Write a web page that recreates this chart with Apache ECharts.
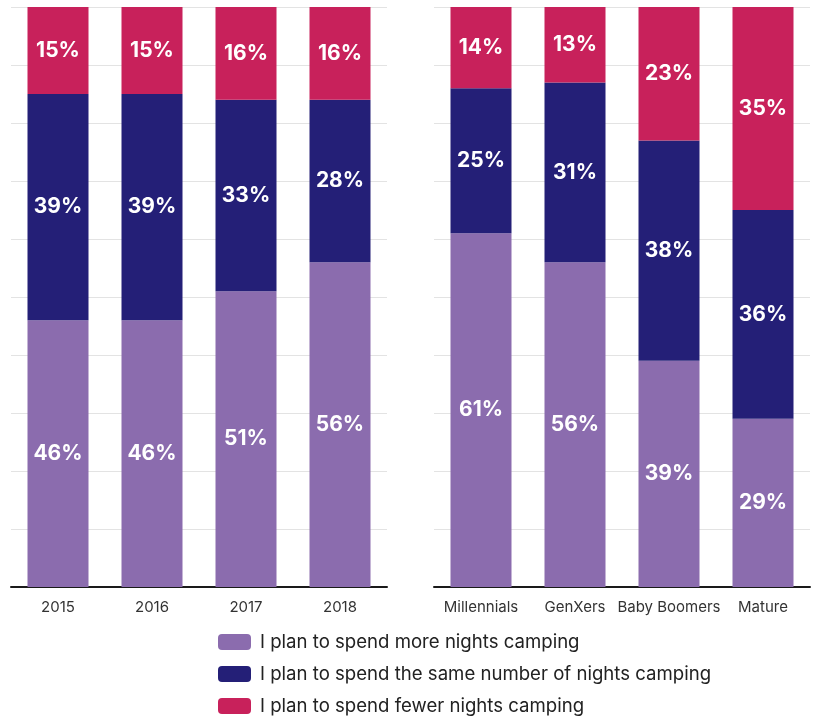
<!DOCTYPE html>
<html>
<head>
<meta charset="utf-8">
<script src="https://cdn.jsdelivr.net/npm/echarts@6/dist/echarts.min.js"></script>
<style>
  html, body { margin: 0; padding: 0; background: #ffffff; }
  #chart { width: 822px; height: 721px; }
</style>
</head>
<body>
<div id="chart"></div>
<script>
// Camping plans: by survey year (left) and by generation (right)
const yearCategories = ['2015', '2016', '2017', '2018'];
const genCategories = ['Millennials', 'GenXers', 'Baby Boomers', 'Mature'];

const seriesNames = [
  'I plan to spend more nights camping',
  'I plan to spend the same number of nights camping',
  'I plan to spend fewer nights camping'
];

const yearMore = [46, 46, 51, 56];
const yearSame = [39, 39, 33, 28];
const yearFewer = [15, 15, 16, 16];

const genMore = [61, 56, 39, 29];
const genSame = [25, 31, 38, 36];
const genFewer = [14, 13, 23, 35];

const colors = ['#8B6CAE', '#241F77', '#C8215B'];

const chart = echarts.init(document.getElementById('chart'));

const labelFont = 'Inter, "Open Sans", sans-serif';

function makeSeries(name, data, color, axisIndex) {
  return {
    name: name,
    type: 'bar',
    stack: 'panel' + axisIndex,
    xAxisIndex: axisIndex,
    yAxisIndex: axisIndex,
    barWidth: 61,
    data: data,
    itemStyle: { color: color },
    label: {
      show: true,
      position: 'inside',
      formatter: '{c}%',
      color: '#ffffff',
      fontFamily: labelFont,
      fontWeight: 'bold',
      fontSize: 21
    },
    emphasis: { disabled: true }
  };
}

function xAxisFor(cats, gridIndex) {
  return {
    type: 'category',
    gridIndex: gridIndex,
    data: cats,
    axisTick: { show: false },
    axisLine: { show: true, lineStyle: { color: '#1a1a1a', width: 2 } },
    axisLabel: {
      interval: 0,
      color: '#333333',
      fontFamily: labelFont,
      fontSize: 15,
      margin: 13
    }
  };
}

function yAxisFor(gridIndex) {
  return {
    type: 'value',
    gridIndex: gridIndex,
    min: 0,
    max: 100,
    interval: 10,
    axisLabel: { show: false },
    axisTick: { show: false },
    axisLine: { show: false },
    splitLine: { show: true, lineStyle: { color: '#e3e3e3', width: 1 } }
  };
}

const option = {
  backgroundColor: '#ffffff',
  animation: false,
  color: colors,
  grid: [
    { left: 11, width: 376, top: 7, height: 580 },
    { left: 434, width: 376, top: 7, height: 580 }
  ],
  xAxis: [xAxisFor(yearCategories, 0), xAxisFor(genCategories, 1)],
  yAxis: [yAxisFor(0), yAxisFor(1)],
  legend: {
    orient: 'vertical',
    left: 218,
    top: 631,
    height: 120,
    padding: 0,
    itemWidth: 33,
    itemHeight: 16,
    itemGap: 10,
    data: seriesNames,
    textStyle: {
      color: '#222222',
      fontFamily: labelFont,
      fontSize: 18.6,
      lineHeight: 22,
      padding: [0, 0, 0, 4]
    },
    selectedMode: false
  },
  series: [
    makeSeries(seriesNames[0], yearMore, colors[0], 0),
    makeSeries(seriesNames[1], yearSame, colors[1], 0),
    makeSeries(seriesNames[2], yearFewer, colors[2], 0),
    makeSeries(seriesNames[0], genMore, colors[0], 1),
    makeSeries(seriesNames[1], genSame, colors[1], 1),
    makeSeries(seriesNames[2], genFewer, colors[2], 1)
  ]
};

chart.setOption(option);
</script>
</body>
</html>
